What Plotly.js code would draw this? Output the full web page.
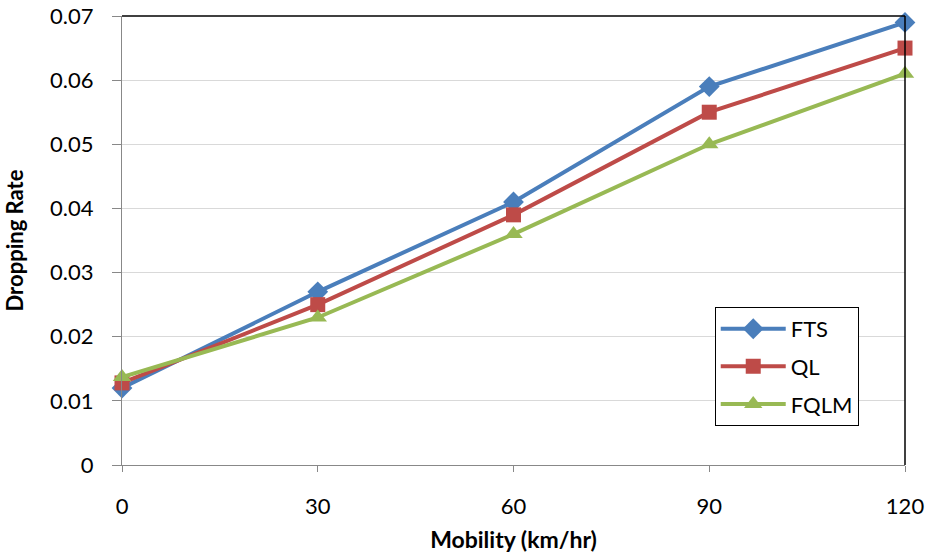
<!DOCTYPE html>
<html><head><meta charset="utf-8">
<script src="https://cdn.plot.ly/plotly-3.0.1.min.js"></script>
<style>html,body{margin:0;padding:0;background:#fff}#chart{width:927px;height:553px}</style>
</head><body><div id="chart"></div>
<script>
const mobility = [0, 30, 60, 90, 120];
const fts = [0.012, 0.027, 0.041, 0.059, 0.069];
const ql = [0.0128, 0.025, 0.039, 0.055, 0.065];
const fqlm = [0.0137, 0.023, 0.036, 0.050, 0.061];
const yTicks = [0, 0.01, 0.02, 0.03, 0.04, 0.05, 0.06, 0.07];
const yTickText = ['0', '0.01', '0.02', '0.03', '0.04', '0.05', '0.06', '0.07'];

const font = 'Lato, "Open Sans", sans-serif';
const traces = [
  {x: mobility, y: fts, name: 'FTS', legendgroup: 'g1', mode: 'lines+markers', cliponaxis: false,
   line: {color: '#4A7EBB', width: 4}, marker: {symbol: 'diamond', size: 16, color: '#4A7EBB'}},
  {x: mobility, y: ql, name: 'QL', legendgroup: 'g2', mode: 'lines+markers', cliponaxis: false,
   line: {color: '#BE4B48', width: 4}, marker: {symbol: 'square', size: 15, color: '#BE4B48'}},
  {x: mobility, y: fqlm, name: 'FQLM', legendgroup: 'g3', mode: 'lines+markers', cliponaxis: false,
   line: {color: '#98B954', width: 4}, marker: {symbol: 'triangle-up', size: 16, color: '#98B954'}}
];
const layout = {
  width: 927, height: 553,
  margin: {l: 122, r: 22, t: 16, b: 88},
  paper_bgcolor: '#fff', plot_bgcolor: '#fff',
  showlegend: true,
  legend: {x: 0.757, y: 0.352, xanchor: 'left', yanchor: 'top',
    bordercolor: '#000', borderwidth: 1, bgcolor: '#fff', itemwidth: 65,
    font: {family: font, size: 22, color: '#000'}, tracegroupgap: 6},
  xaxis: {range: [0, 120], tickvals: mobility, ticktext: mobility.map(String),
    showgrid: false, zeroline: false, showline: true, linecolor: '#888', linewidth: 1,
    ticks: 'outside', ticklen: 6, tickcolor: '#888', ticklabelstandoff: 16,
    tickfont: {family: font, size: 22, color: '#000'},
    title: {text: 'Mobility (km/hr)', font: {family: font, size: 23, color: '#000', weight: 'bold'}, standoff: 15}},
  yaxis: {range: [0, 0.07], tickvals: yTicks, ticktext: yTickText,
    showgrid: true, gridcolor: '#d9d9d9', zeroline: false, showline: true, linecolor: '#888', linewidth: 1,
    ticks: 'outside', ticklen: 9, tickcolor: '#888', ticklabelstandoff: 14,
    tickfont: {family: font, size: 22, color: '#000'},
    title: {text: 'Dropping Rate', font: {family: font, size: 22, color: '#000', weight: 'bold'}, standoff: 20}},
  shapes: [
    {type: 'line', xref: 'paper', yref: 'paper', x0: 0, x1: 1, y0: 1, y1: 1, line: {color: '#000', width: 1.5}},
    {type: 'line', xref: 'paper', yref: 'paper', x0: 1, x1: 1, y0: 0, y1: 1, line: {color: '#000', width: 1.5}}
  ]
};
Plotly.newPlot('chart', traces, layout, {displayModeBar: false});
</script></body></html>
